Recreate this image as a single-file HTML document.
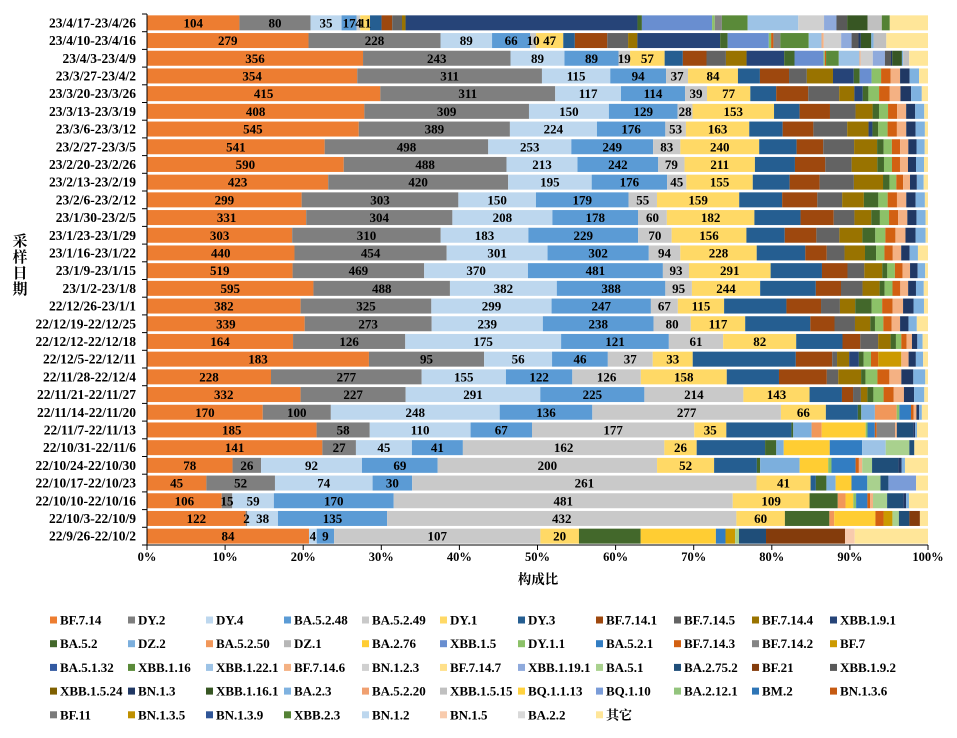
<!DOCTYPE html>
<html><head><meta charset="utf-8"><style>
html,body{margin:0;padding:0;background:#fff;width:957px;height:738px;overflow:hidden}
svg{display:block}
text{font-family:"Liberation Serif","Noto Serif CJK SC",serif;font-weight:bold;fill:#000}
</style></head><body>
<svg id="chart" width="957" height="738" viewBox="0 0 957 738" xmlns="http://www.w3.org/2000/svg"></svg>
<script>
const categories=["23/4/17-23/4/26","23/4/10-23/4/16","23/4/3-23/4/9","23/3/27-23/4/2","23/3/20-23/3/26","23/3/13-23/3/19","23/3/6-23/3/12","23/2/27-23/3/5","23/2/20-23/2/26","23/2/13-23/2/19","23/2/6-23/2/12","23/1/30-23/2/5","23/1/23-23/1/29","23/1/16-23/1/22","23/1/9-23/1/15","23/1/2-23/1/8","22/12/26-23/1/1","22/12/19-22/12/25","22/12/12-22/12/18","22/12/5-22/12/11","22/11/28-22/12/4","22/11/21-22/11/27","22/11/14-22/11/20","22/11/7-22/11/13","22/10/31-22/11/6","22/10/24-22/10/30","22/10/17-22/10/23","22/10/10-22/10/16","22/10/3-22/10/9","22/9/26-22/10/2"];
const tickLabels=["0%","10%","20%","30%","40%","50%","60%","70%","80%","90%","100%"];
const seriesNames=["BF.7.14","DY.2","DY.4","BA.5.2.48","BA.5.2.49","DY.1","DY.3","BF.7.14.1","BF.7.14.5","BF.7.14.4","XBB.1.9.1","BA.5.2","DZ.2","BA.5.2.50","DZ.1","BA.2.76","XBB.1.5","DY.1.1","BA.5.2.1","BF.7.14.3","BF.7.14.2","BF.7","BA.5.1.32","XBB.1.16","XBB.1.22.1","BF.7.14.6","BN.1.2.3","BF.7.14.7","XBB.1.19.1","BA.5.1","BA.2.75.2","BF.21","XBB.1.9.2","XBB.1.5.24","BN.1.3","XBB.1.16.1","BA.2.3","BA.5.2.20","XBB.1.5.15","BQ.1.1.13","BQ.1.10","BA.2.12.1","BM.2","BN.1.3.6","BF.11","BN.1.3.5","BN.1.3.9","XBB.2.3","BN.1.2","BN.1.5","BA.2.2","其它"];
const seriesColors=["#ED7D31","#7F7F7F","#BDD7EE","#5B9BD5","#C9C9C9","#FFD966","#255E91","#9E480E","#636363","#997300","#264478","#43682B","#7CAFDD","#F1975A","#B7B7B7","#FFCD33","#698ED0","#8CC168","#327DC2","#D26012","#848484","#CC9A00","#335AA1","#5A8A39","#9DC3E6","#F4B183","#D0D0D0","#FFE08A","#8FAADC","#A9D18E","#1F4E79","#843C0C","#595959","#7F6000","#203864","#375623","#7FB2E0","#F0A070","#C0C0C0","#FFD23F","#7A9CD8","#93C47D","#2E75B6","#C55A11","#7B7B7B","#BF9000","#2F5597","#548235","#BDD7EE","#F8CBAD","#D9D9D9","#FFE699"];
const Z=[0,0,0,0,0,0,0,0,0,0,0,0,0,0,0,0,0,0,0,0,0,0,0,0,0,0,0,0,0,0];
const BF7_14=[104,279,356,354,415,408,545,541,590,423,299,331,303,440,519,595,382,339,164,183,228,332,170,185,141,78,45,106,122,84];
const DY2=[80,228,243,311,311,309,389,498,488,420,303,304,310,454,469,488,325,273,126,95,277,227,100,58,27,26,52,15,2,0];
const DY4=[35,89,89,115,117,150,224,253,213,195,150,208,183,301,370,382,299,239,175,56,155,291,248,110,45,92,74,59,38,4];
const BA5_2_48=[17,66,89,94,114,129,176,249,242,176,179,178,229,302,481,388,247,238,121,46,122,225,136,67,41,69,30,170,135,9];
const BA5_2_49=[4,10,19,37,39,28,53,83,79,45,55,60,70,94,93,95,67,80,61,37,126,214,277,177,162,200,261,481,432,107];
const DY1=[11,47,57,84,77,153,163,240,211,155,159,182,156,228,291,244,115,117,82,33,158,143,66,35,26,52,41,109,60,20];
const DY3=[13,20,30,37,46,48,86,114,120,86,83,96,80,145,183,199,155,140,52,85,96,70,47,71,55,39,4,0,0,0];
const BF7_14_1=[12,56,39,49,57,57,79,81,91,70,68,69,66,64,91,90,86,52,20,30,88,24,0,0,0,0,0,0,0,0];
const BF7_14_5=[11,36,32,30,55,48,87,94,79,80,48,43,48,53,60,77,47,44,20,4,21,17,0,0,0,0,0,0,0,0];
const BF7_14_4=[4,16,34,44,27,32,55,70,77,68,42,35,48,61,64,61,38,33,14,10,42,14,0,0,0,0,0,0,0,0];
const XBB1_9_1=[261,143,62,35,15,0,10,0,0,0,0,0,0,0,0,0,0,0,0,8,0,0,0,0,0,0,0,0,0,0];
const BA5_2=[5,13,17,10,10,12,15,20,20,15,28,18,27,33,18,18,41,10,6,4,8,13,5,2,9,3,8,40,55,32];
const DZ2=[0,0,0,0,0,0,0,0,0,0,0,0,0,0,0,0,0,0,0,0,0,0,20,20,6,36,7,0,0,0];
const BA5_2_50=[0,0,0,0,0,0,0,0,0,0,0,0,0,0,0,0,0,0,0,0,0,0,32,11,0,0,0,11,6,0];
const BA2_76=[0,0,0,0,0,0,0,0,0,0,0,0,0,0,0,0,0,0,0,0,0,0,0,48,37,26,12,11,51,39];
const XBB1_5=[79,71,48,20,0,0,0,0,0,0,0,0,0,0,0,0,0,0,0,0,0,0,0,0,0,0,0,0,0,0];
const DY1_1=[3,4,2,16,19,17,24,25,24,16,18,19,21,25,27,28,26,18,6,6,22,22,4,2,0,3,0,4,0,0];
const BA5_2_1=[0,0,0,0,0,0,0,0,0,0,0,0,0,0,0,0,0,0,0,0,0,0,17,8,26,22,12,16,0,5];
const BF7_14_3=[0,4,2,16,19,17,24,25,24,16,18,19,21,25,27,28,26,18,6,6,22,22,4,2,0,3,0,4,10,0];
const BF7_14_2=[8,12,0,0,0,0,0,0,0,0,0,0,0,0,0,0,0,0,0,0,0,0,0,20,0,0,0,0,0,0];
const BF7=[0,0,0,0,0,0,0,0,0,0,0,0,0,0,0,0,0,0,0,19,0,0,0,0,0,0,0,0,11,5];
const XBB1_16=[29,49,21,0,0,0,0,0,0,0,0,0,0,0,0,0,0,0,0,0,0,0,0,0,0,0,0,0,0,0];
const XBB1_22_1=[57,22,34,0,0,0,0,0,0,0,0,0,0,0,0,0,0,0,0,0,0,0,0,0,19,0,0,0,0,0];
const BF7_14_6=[0,4,2,16,19,17,24,25,24,16,18,19,21,25,27,28,26,18,6,6,22,22,4,2,0,3,0,4,0,0];
const BN1_2_3=[29,30,20,0,0,0,0,0,0,0,0,0,0,0,0,0,0,0,0,0,0,0,0,0,0,0,0,0,0,0];
const XBB1_19_1=[14,18,20,0,0,0,0,0,0,0,0,0,0,0,0,0,0,0,0,0,0,0,0,0,0,0,0,0,0,0];
const BA5_1=[0,0,0,0,0,0,0,0,0,0,0,0,0,0,0,0,0,0,0,0,0,0,0,0,19,9,10,20,8,2];
const BA2_75_2=[0,0,0,0,0,0,0,0,0,0,0,0,0,0,0,0,0,0,0,0,0,0,0,18,4,24,6,23,13,14];
const BF21=[0,0,0,0,0,0,0,0,0,0,0,0,0,0,0,0,0,0,0,0,0,0,0,0,0,0,0,0,13,41];
const XBB1_9_2=[12,12,10,0,0,0,0,0,0,0,0,0,0,0,0,0,0,0,0,0,0,0,0,0,0,0,0,0,0,0];
const BN1_3=[0,4,2,16,19,17,24,25,24,16,18,19,21,25,27,28,26,18,6,6,22,22,4,2,0,3,0,4,0,0];
const XBB1_16_1=[23,18,16,0,0,0,0,0,0,0,0,0,0,0,0,0,0,0,0,0,0,0,0,0,0,0,0,0,0,0];
const BA2_3=[0,4,2,16,19,17,24,25,24,16,18,19,21,25,27,28,26,18,6,6,22,22,4,2,0,3,0,4,0,0];
const XBB1_5_15=[16,22,10,0,0,0,0,0,0,0,0,0,0,0,0,0,0,0,0,0,0,0,0,0,0,0,0,0,0,0];
const BQ1_10=[0,0,0,0,0,0,0,0,0,0,0,0,0,0,0,0,0,0,0,0,0,0,0,0,0,0,21,0,0,0];
const XBB2_3=[9,0,0,0,0,0,0,0,0,0,0,0,0,0,0,0,0,0,0,0,0,0,0,0,0,0,0,0,0,0];
const BN1_5=[0,0,0,0,0,0,0,0,0,0,0,0,0,0,0,0,0,0,0,0,0,0,0,0,0,0,0,0,0,5];
const OTHER=[43,72,31,15,11,7,8,10,12,10,6,5,5,30,10,15,10,24,6,4,5,8,9,12,11,21,9,27,10,38];
const seriesData=[BF7_14,DY2,DY4,BA5_2_48,BA5_2_49,DY1,DY3,BF7_14_1,BF7_14_5,BF7_14_4,XBB1_9_1,BA5_2,DZ2,BA5_2_50,Z,BA2_76,XBB1_5,DY1_1,BA5_2_1,BF7_14_3,BF7_14_2,BF7,Z,XBB1_16,XBB1_22_1,BF7_14_6,BN1_2_3,Z,XBB1_19_1,BA5_1,BA2_75_2,BF21,XBB1_9_2,Z,BN1_3,XBB1_16_1,BA2_3,Z,XBB1_5_15,Z,BQ1_10,Z,Z,Z,Z,Z,Z,XBB2_3,Z,BN1_5,Z,OTHER];

const NS="http://www.w3.org/2000/svg";
const svg=document.getElementById('chart');
const X0=147,X1=928,Y0=14,Y1=545;
const band=(Y1-Y0)/categories.length, barH=15;
const xScale=p=>X0+(X1-X0)*p;
const yScale=i=>Y0+band*i;
function mk(tag,attrs,parent){const e=document.createElementNS(NS,tag);for(const k in attrs)e.setAttribute(k,attrs[k]);(parent||svg).appendChild(e);return e;}

const bars=mk('g',{});


const labels=mk('g',{});


categories.forEach((cat,i)=>{
  let total=0;seriesData.forEach(s=>total+=s[i]);
  let cum=0;const y=yScale(i)+(band-barH)/2;
  seriesData.forEach((s,k)=>{
    const v=s[i];if(!v)return;
    const xa=xScale(cum/total),xb=xScale((cum+v)/total);
    const r=mk('rect',{x:xa,y:y,width:Math.max(0,xb-xa),height:barH,fill:seriesColors[k]},bars);
    
    
    if(k<6){
      const t=mk('text',{x:(xa+xb)/2,y:y+barH/2+4.5,'text-anchor':'middle','font-size':13},labels);
      
      
      t.textContent=v;
    }
    cum+=v;
  });
  const cl=mk('text',{x:136,y:yScale(i)+band/2+4.5,'text-anchor':'end','font-size':13.5});
  
  
  cl.textContent=cat;
});
// y axis
const ya=mk('line',{x1:X0,y1:Y0,x2:X0,y2:Y1,stroke:'#000','stroke-width':1});


for(let i=0;i<=categories.length;i++){
  const tk=mk('line',{x1:X0-5,y1:yScale(i),x2:X0,y2:yScale(i),stroke:'#000'});
  
  
}
const xa=mk('line',{x1:X0,y1:Y1,x2:X1,y2:Y1,stroke:'#000','stroke-width':1});


tickLabels.forEach((lb,j)=>{
  const x=xScale(j/10);
  const tk=mk('line',{x1:x,y1:Y1,x2:x,y2:Y1+5,stroke:'#000'});
  
  
  const t=mk('text',{x:x,y:Y1+16,'text-anchor':'middle','font-size':12.5});
  
  
  t.textContent=lb;
});
const xt=mk('text',{x:538,y:584,'text-anchor':'middle','font-size':13.5});


xt.textContent='构成比';
const ytg=mk('g',{});


['采','样','日','期'].forEach((c,j)=>{const t=mk('text',{x:20,y:246+j*16,'text-anchor':'middle','font-size':15,'font-family':'"Noto Sans CJK SC",sans-serif','font-weight':'normal'},ytg);t.textContent=c;});
// legend
const lg=mk('g',{});


seriesNames.forEach((n,k)=>{
  const col=k%11,row=Math.floor(k/11);
  const x=50+col*78,y=620+row*23.7;
  const g=mk('g',{},lg);
  
  
  mk('rect',{x:x,y:y-3.5,width:7,height:7,fill:seriesColors[k]},g);
  const t=mk('text',{x:x+10,y:y+4.5,'font-size':13},g);
  t.textContent=n;
});
</script>
</body></html>
